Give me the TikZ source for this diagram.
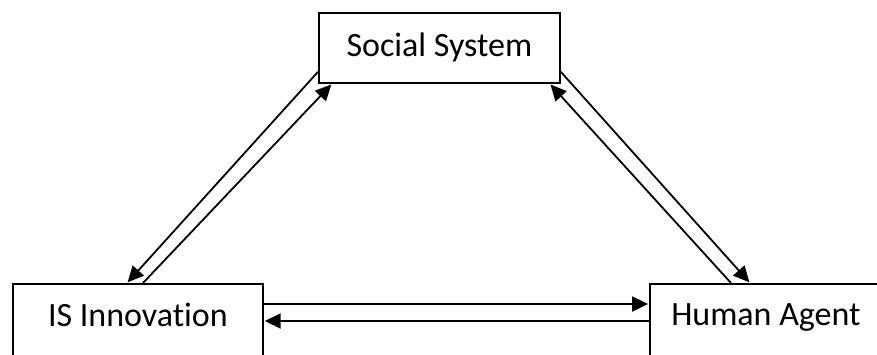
\documentclass[tikz,border=0pt]{standalone}
\usepackage{fontspec}
\setmainfont[Ligatures=NoCommon]{Carlito}
\usetikzlibrary{arrows.meta,calc}
\tikzset{
  box/.style={draw=black, line width=1.8pt, fill=white, inner sep=0pt, font=\fontsize{34}{40}\selectfont},
  conn/.style={line width=1.8pt, -{Triangle[length=16pt,width=15pt]}, shorten >=0.9pt},
}
\begin{document}
\begin{tikzpicture}[x=1pt,y=-1pt]
\useasboundingbox (0,0) rectangle (877,354);
\clip (0,0) rectangle (877,354);
\fill[white] (0,0) rectangle (877,354);
\node[box, anchor=north west, minimum width=241pt, text height=44pt, text depth=26pt] (soc) at (318,12) {Social System};
\node[box, anchor=north west, minimum width=250pt, text height=43pt, text depth=29pt] (is) at (12,283) {IS Innovation};
\node[box, anchor=north west, minimum width=232pt, text height=42pt, text depth=30pt] (ha) at (649,283) {Human Agent};
% left pair
\draw[conn] ($(soc.south west)+(0,-12)$) -- ($(is.north west)+(115,0)$);
\draw[conn] ($(is.north west)+(131,0)$) -- ($(soc.south west)+(14,0)$);
% right pair
\draw[conn] ($(soc.south east)+(0,-12)$) -- ($(ha.north west)+(101,0)$);
\draw[conn] ($(ha.north west)+(82,0)$) -- ($(soc.south east)+(-11,0)$);
% horizontal pair
\draw[conn] ($(is.north east)+(0,21)$) -- ($(ha.north west)+(0,21)$);
\draw[conn] ($(ha.north west)+(0,38)$) -- ($(is.north east)+(0,38)$);
\end{tikzpicture}
\end{document}
